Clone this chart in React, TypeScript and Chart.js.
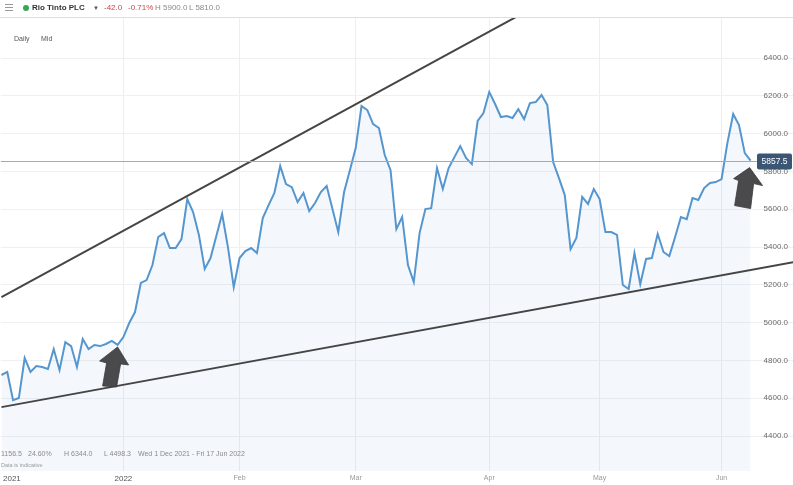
import React, { useEffect, useRef } from 'react';
import { Chart, registerables } from 'chart.js';

Chart.register(...registerables);

// Daily mid prices, Rio Tinto PLC, trading-day index 0 = Wed 1 Dec 2021
const PRICES: number[] = [
  4723, 4739, 4590, 4601, 4813, 4739, 4770, 4765, 4755, 4860,
  4749, 4897, 4876, 4765, 4913, 4860, 4882, 4876, 4887, 4903,
  4882, 4924, 4998, 5056, 5210, 5225, 5305, 5453, 5474, 5395,
  5395, 5442, 5654, 5585, 5464, 5284, 5342, 5458, 5575, 5400,
  5188, 5342, 5379, 5395, 5368, 5553, 5622, 5686, 5829, 5733,
  5717, 5638, 5686, 5590, 5633, 5691, 5723, 5601, 5479, 5691,
  5807, 5924, 6146, 6125, 6051, 6030, 5887, 5807, 5495, 5559,
  5305, 5215, 5474, 5601, 5606, 5818, 5707, 5818, 5876, 5934,
  5871, 5839, 6067, 6109, 6220, 6157, 6088, 6093, 6083, 6130,
  6077, 6162, 6167, 6204, 6151, 5850, 5765, 5675, 5389, 5448,
  5665, 5628, 5707, 5654, 5479, 5479, 5464, 5199, 5178, 5368,
  5204, 5337, 5342, 5469, 5374, 5352, 5453, 5559, 5548, 5659,
  5649, 5712, 5739, 5744, 5760, 5950, 6104, 6045, 5897, 5857.5,
];

const LAST_PRICE = 5857.5;

// x-axis month ticks (trading-day index) and their labels
const X_TICK_POS: number[] = [1.8, 21, 41, 61, 84, 103, 124];
const X_TICK_LABELS: string[] = ['2021', '2022', 'Feb', 'Mar', 'Apr', 'May', 'Jun'];

// y-axis ticks
const Y_TICKS: number[] = [4400, 4600, 4800, 5000, 5200, 5400, 5600, 5800, 6000, 6200, 6400];

// trend channel lines (index -> price)
const TREND_X: number[] = [0, 140];
const UPPER_TREND: number[] = [5135, 7477];
const LOWER_TREND: number[] = [4553, 5340];

// arrows anchored on these trading-day indices
const ARROW_AT: number[] = [20, 129];

const FONT = "'Liberation Sans', Arial, sans-serif";

const overlayPlugin = {
  id: 'overlay',
  afterDatasetsDraw(chart: any) {
    const { ctx, chartArea, scales } = chart;
    const xs = scales.x;
    const ys = scales.y;
    ctx.save();
    // last price line
    const py = Math.round(ys.getPixelForValue(LAST_PRICE)) + 0.5;
    const tagW = 35;
    const tagLeft = chartArea.right - tagW - 1;
    ctx.strokeStyle = '#a9a9a9';
    ctx.lineWidth = 1;
    ctx.beginPath();
    ctx.moveTo(chartArea.left, py);
    ctx.lineTo(tagLeft, py);
    ctx.stroke();

    // arrows
    const shapes: number[][][] = [
      [[0, 0], [11, 18], [3, 17], [-1, 40], [-15, 39], [-11, 16], [-18, 14]],
      [[0, 0], [13, 18], [4, 16], [1, 41], [-15, 38], [-11, 13], [-16, 11]],
    ];
    const offs = [[0, 2], [-1, 7]];
    ARROW_AT.forEach((idx, k) => {
      const tx = xs.getPixelForValue(idx) + offs[k][0];
      const ty = ys.getPixelForValue(PRICES[idx]) + offs[k][1];
      ctx.beginPath();
      shapes[k].forEach(([dx, dy], j) => {
        if (j === 0) ctx.moveTo(tx + dx, ty + dy);
        else ctx.lineTo(tx + dx, ty + dy);
      });
      ctx.closePath();
      ctx.fillStyle = '#4a4a4c';
      ctx.fill();
      ctx.strokeStyle = '#3a3a3a';
      ctx.lineWidth = 0.8;
      ctx.stroke();
    });

    // price tag
    ctx.fillStyle = '#3b5575';
    const th = 16;
    ctx.beginPath();
    const r = 2;
    const x0 = tagLeft, y0 = py - th / 2, w = tagW, h = th;
    ctx.moveTo(x0 + r, y0);
    ctx.lineTo(x0 + w - r, y0);
    ctx.quadraticCurveTo(x0 + w, y0, x0 + w, y0 + r);
    ctx.lineTo(x0 + w, y0 + h - r);
    ctx.quadraticCurveTo(x0 + w, y0 + h, x0 + w - r, y0 + h);
    ctx.lineTo(x0 + r, y0 + h);
    ctx.quadraticCurveTo(x0, y0 + h, x0, y0 + h - r);
    ctx.lineTo(x0, y0 + r);
    ctx.quadraticCurveTo(x0, y0, x0 + r, y0);
    ctx.fill();
    ctx.fillStyle = '#ffffff';
    ctx.font = `8.5px ${FONT}`;
    ctx.textAlign = 'center';
    ctx.textBaseline = 'middle';
    ctx.fillText(LAST_PRICE.toFixed(1), x0 + w / 2, py + 0.5);
    ctx.restore();
  },
};

export default function App() {
  const canvasRef = useRef<HTMLCanvasElement | null>(null);

  useEffect(() => {
    document.body.style.margin = '0';
    const canvas = canvasRef.current;
    if (!canvas) return;
    const chart = new Chart(canvas, {
      type: 'line',
      data: {
        datasets: [
          {
            label: 'Rio Tinto PLC',
            data: PRICES.map((p, i) => ({ x: i, y: p })),
            borderColor: '#5596cf',
            borderWidth: 2,
            backgroundColor: 'rgba(96,150,210,0.07)',
            fill: 'start',
            pointRadius: 0,
            tension: 0,
            order: 2,
          },
          {
            label: 'upper',
            data: TREND_X.map((x, i) => ({ x, y: UPPER_TREND[i] })),
            borderColor: '#454545',
            borderWidth: 2,
            pointRadius: 0,
            fill: false,
            order: 1,
          },
          {
            label: 'lower',
            data: TREND_X.map((x, i) => ({ x, y: LOWER_TREND[i] })),
            borderColor: '#454545',
            borderWidth: 2,
            pointRadius: 0,
            fill: false,
            order: 1,
          },
        ],
      },
      options: {
        animation: false,
        responsive: false,
        maintainAspectRatio: false,
        layout: { padding: { top: 18, left: 0, right: 0, bottom: 0 } },
        plugins: {
          legend: { display: false },
          tooltip: { enabled: false },
        },
        scales: {
          x: {
            type: 'linear',
            min: -0.1,
            max: 136.3,
            afterBuildTicks: (s: any) => {
              s.ticks = X_TICK_POS.map((v) => ({ value: v }));
            },
            afterFit: (s: any) => {
              s.height = 14;
            },
            ticks: {
              autoSkip: false,
              maxRotation: 0,
              padding: 3,
              callback: (_v: any, i: number) => X_TICK_LABELS[i],
              font: (c: any) => ({ size: c.index < 2 ? 8 : 7, family: FONT }),
              color: (c: any) => (c.index < 2 ? '#555' : '#999'),
            },
            grid: {
              color: (c: any) => (c.index === 0 ? 'rgba(0,0,0,0)' : '#eceef2'),
              drawTicks: false,
            },
            border: { display: false },
          },
          y: {
            position: 'right',
            min: 4215,
            max: 6612,
            afterBuildTicks: (s: any) => {
              s.ticks = Y_TICKS.map((v) => ({ value: v }));
            },
            afterFit: (s: any) => {
              s.width = 0;
            },
            ticks: {
              mirror: true,
              padding: -5,
              callback: (v: any) => Number(v).toFixed(1),
              font: { size: 8, family: FONT },
              color: '#6a6a6a',
            },
            grid: { color: '#eef0f3', drawTicks: false },
            border: { display: false },
          },
        },
      },
      plugins: [overlayPlugin],
    } as any);
    return () => chart.destroy();
  }, []);

  const txt: React.CSSProperties = { position: 'absolute', whiteSpace: 'nowrap', fontFamily: FONT, lineHeight: 1 };

  return (
    <div style={{ position: 'relative', width: 793, height: 485, background: '#fff', overflow: 'hidden' }}>
      <canvas ref={canvasRef} width={793} height={485} style={{ position: 'absolute', left: 0, top: 0 }} />
      <div style={{ position: 'absolute', left: 0, top: 0, width: 793, height: 17, borderBottom: '1px solid #dedede', background: '#fff' }} />
      {[4, 7, 10].map((t) => (
        <div key={t} style={{ position: 'absolute', left: 5, top: t, width: 8, height: 1, background: '#9a9a9a' }} />
      ))}
      <div style={{ position: 'absolute', left: 23, top: 5, width: 6, height: 6, borderRadius: 3, background: '#34a853' }} />
      <span style={{ ...txt, left: 32, top: 4, fontSize: 8, fontWeight: 'bold', color: '#333' }}>Rio Tinto PLC</span>
      <span style={{ ...txt, left: 93, top: 5, fontSize: 6, color: '#555' }}>▼</span>
      <span style={{ ...txt, left: 104, top: 4, fontSize: 8, color: '#c9474a' }}>-42.0</span>
      <span style={{ ...txt, left: 128, top: 4, fontSize: 8, color: '#c9474a' }}>-0.71%</span>
      <span style={{ ...txt, left: 155, top: 4, fontSize: 8, color: '#8a8a8a' }}>H 5900.0</span>
      <span style={{ ...txt, left: 189, top: 4, fontSize: 8, color: '#8a8a8a' }}>L 5810.0</span>
      <span style={{ ...txt, left: 14, top: 35, fontSize: 7, color: '#555' }}>Daily</span>
      <span style={{ ...txt, left: 41, top: 35, fontSize: 7, color: '#555' }}>Mid</span>
      <span style={{ ...txt, left: 1, top: 450, fontSize: 7, color: '#8a8a8a' }}>1156.5</span>
      <span style={{ ...txt, left: 28, top: 450, fontSize: 7, color: '#8a8a8a' }}>24.60%</span>
      <span style={{ ...txt, left: 64, top: 450, fontSize: 7, color: '#8a8a8a' }}>H 6344.0</span>
      <span style={{ ...txt, left: 104, top: 450, fontSize: 7, color: '#8a8a8a' }}>L 4498.3</span>
      <span style={{ ...txt, left: 138, top: 450, fontSize: 7, color: '#8a8a8a' }}>Wed 1 Dec 2021 - Fri 17 Jun 2022</span>
      <span style={{ ...txt, left: 1, top: 463, fontSize: 5.5, color: '#9a9a9a' }}>Data is indicative</span>
    </div>
  );
}
